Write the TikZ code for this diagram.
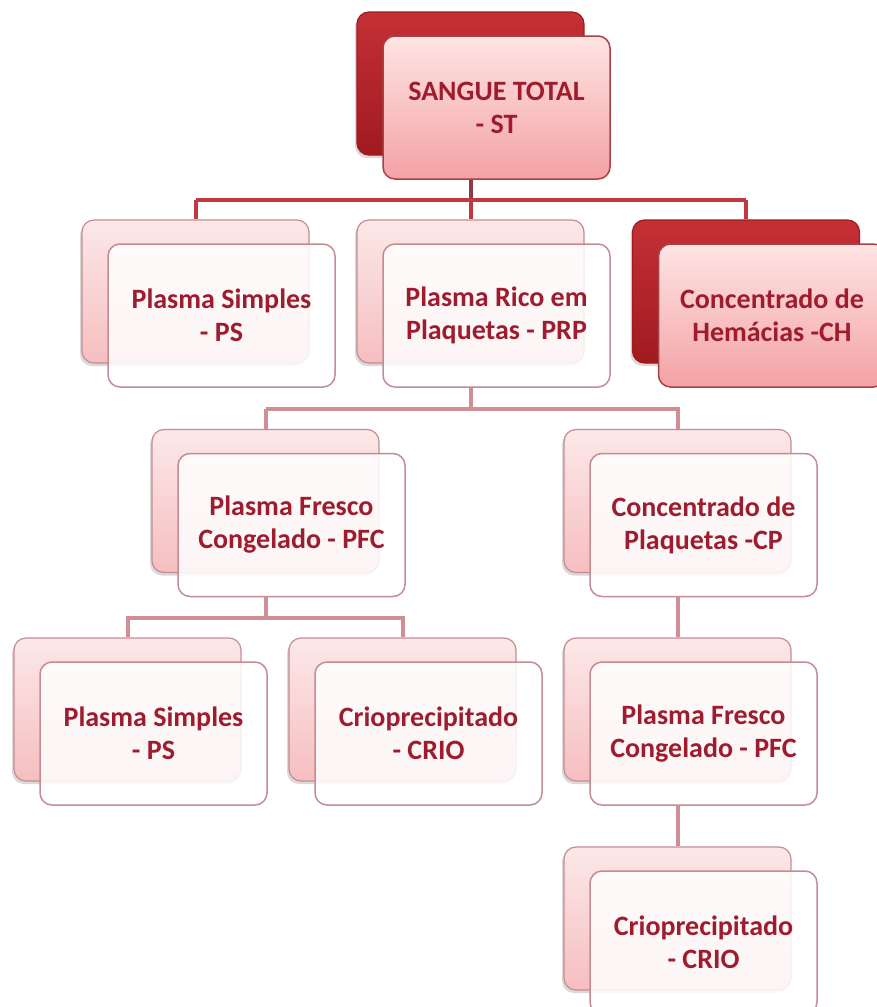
\documentclass[tikz,border=0pt]{standalone}
\usepackage{fontspec}
\setmainfont{Carlito}
\usetikzlibrary{calc,shadows}

\definecolor{txtred}{RGB}{158,28,46}
\definecolor{darkred}{RGB}{196,48,54}
\definecolor{deepred}{RGB}{160,26,32}
\definecolor{edgered}{RGB}{168,64,72}
\definecolor{paleedge}{RGB}{196,140,146}
\definecolor{palepink}{RGB}{252,232,232}
\definecolor{rosepink}{RGB}{246,190,192}
\definecolor{lightpink}{RGB}{255,228,228}
\definecolor{midpink}{RGB}{243,162,165}
\definecolor{topline}{RGB}{192,57,63}
\definecolor{topstem}{RGB}{140,60,66}
\definecolor{lowline}{RGB}{206,142,148}

\tikzset{
  card/.style={rounded corners=12pt, minimum width=227pt, minimum height=143pt, inner sep=0pt},
  backbox/.style={card, draw=paleedge, line width=1.2pt, top color=palepink, bottom color=rosepink,
    drop shadow={shadow xshift=-2pt, shadow yshift=-3pt, opacity=0.3}},
  darkback/.style={card, draw=deepred, line width=1.2pt, top color=darkred, bottom color=deepred,
    drop shadow={shadow xshift=-2pt, shadow yshift=-3pt, opacity=0.3}},
  frontbox/.style={card, draw=paleedge, line width=1.5pt, fill=white, fill opacity=0.85, text opacity=1,
    text=txtred, align=flush center, text width=215pt,
    font=\fontsize{28}{33}\selectfont\bfseries},
  darkfront/.style={frontbox, draw=edgered, fill opacity=1, top color=lightpink, bottom color=midpink},
  link/.style={draw=lowline, line width=4pt},
  toplink/.style={draw=topline, line width=4pt}
}

\begin{document}
\begin{tikzpicture}[x=1pt,y=-1pt]
\useasboundingbox (0,0) rectangle (876,1007);
\coordinate (shift) at (26,24);

% back cards
\node[darkback] (stB) at (470.5,83.5) {};
\node[backbox] (psaB) at (195.5,291.5) {};
\node[backbox] (prpB) at (470.5,291.5) {};
\node[darkback] (chB) at (746,291.5) {};
\node[backbox] (pfcaB) at (265.5,501) {};
\node[backbox] (cpB) at (677.5,501) {};
\node[backbox] (psbB) at (127.5,709.5) {};
\node[backbox] (crioaB) at (402.5,709.5) {};
\node[backbox] (pfcbB) at (677.5,709.5) {};
\node[backbox] (criobB) at (677.5,918.5) {};

% front cards
\node[darkfront] (st) at ($(stB)+(shift)$) {SANGUE TOTAL\\- ST};
\node[frontbox] (psa) at ($(psaB)+(shift)$) {Plasma Simples\\- PS};
\node[frontbox] (prp) at ($(prpB)+(shift)$) {Plasma Rico em\\Plaquetas - PRP};
\node[darkfront] (ch) at ($(chB)+(shift)$) {Concentrado de\\Hemácias -CH};
\node[frontbox] (pfca) at ($(pfcaB)+(shift)$) {Plasma Fresco\\Congelado - PFC};
\node[frontbox] (cp) at ($(cpB)+(shift)$) {Concentrado de\\Plaquetas -CP};
\node[frontbox] (psb) at ($(psbB)+(shift)$) {Plasma Simples\\- PS};
\node[frontbox] (crioa) at ($(crioaB)+(shift)$) {Crioprecipitado\\- CRIO};
\node[frontbox] (pfcb) at ($(pfcbB)+(shift)$) {Plasma Fresco\\Congelado - PFC};
\node[frontbox] (criob) at ($(criobB)+(shift)$) {Crioprecipitado\\- CRIO};

% bus levels
\coordinate (busA) at (0,200);
\coordinate (busB) at (0,409);
\coordinate (busC) at (0,618);

\draw[draw=topstem, line width=4pt] (stB |- st.south) -- (stB |- busA);
\draw[toplink] (psaB |- busA) -- (chB |- busA);
\draw[toplink] (psaB |- busA) -- (psaB.north);
\draw[toplink] (prpB |- busA) -- (prpB.north);
\draw[toplink] (chB |- busA) -- (chB.north);

\draw[link] (prpB |- prp.south) -- (prpB |- busB);
\draw[link] (pfcaB |- busB) -- (pfcaB.north) (pfcaB |- busB) -| (cpB.north);

\draw[link] (pfcaB |- pfca.south) -- (pfcaB |- busC);
\draw[link] (psbB.north) |- (crioaB |- busC) -- (crioaB.north);

\draw[link] (cpB |- cp.south) -- (pfcbB.north);
\draw[link] (pfcbB |- pfcb.south) -- (criobB.north);
\end{tikzpicture}
\end{document}
